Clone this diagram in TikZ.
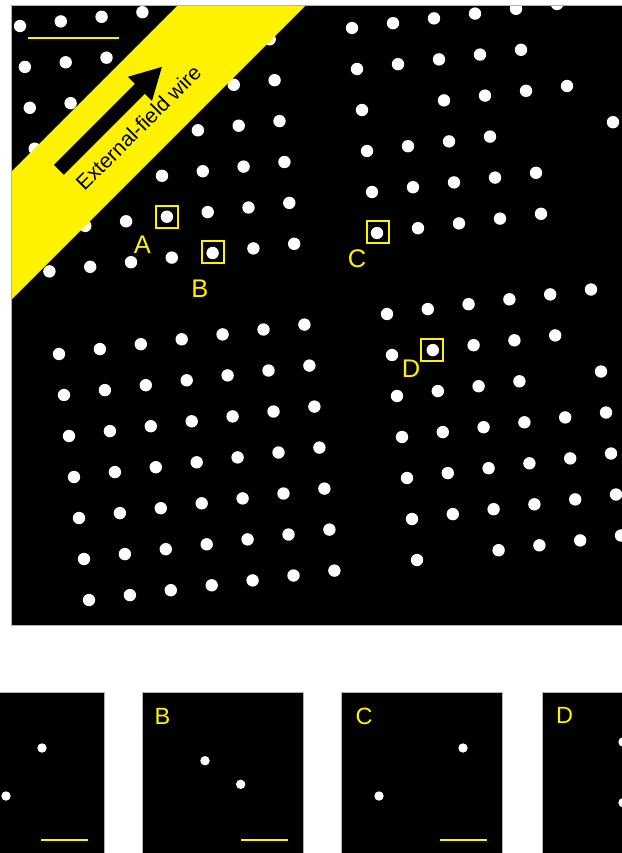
\documentclass[tikz,border=0pt]{standalone}
\usepackage{fontspec}
\setmainfont{Liberation Sans}
\begin{document}
\begin{tikzpicture}[x=1pt,y=-1pt,
  atom/.style={fill=white},
  frame/.style={draw=gray!60,line width=0.8pt},
  markbox/.style={draw=yellow,line width=2pt,minimum size=22pt,inner sep=0pt,shape=rectangle},
  lbl/.style={text=yellow,inner sep=0pt,font=\fontsize{25.5}{25.5}\selectfont},
  plbl/.style={text=yellow,inner sep=0pt,font=\fontsize{23.5}{23.5}\selectfont},
  bar/.style={draw=yellow,line width=2.7pt},
  wire/.style={fill=yellow},
  wiretext/.style={inner sep=0pt,anchor=base west,rotate=45,font=\fontsize{21}{21}\selectfont}]
\useasboundingbox (0,0) rectangle (621,853);
\fill[white] (0,0) rectangle (621,853);
% main image
\begin{scope}
  \clip (11.5,5.5) rectangle (640,625);
  \fill[black] (11.5,5.5) rectangle (640,625);
  % grain 1 (top left)
  \foreach \i in {0,...,6}{\foreach \j in {0,...,6}{
    \fill[atom] ({20+40.8*\i+4.9*\j},{26-4.6*\i+40.9*\j}) circle[radius=6.2pt];}}
  % grain 2 (top right)
  \foreach \i/\j in {0/0,1/0,2/0,3/0,4/0,5/0,
                     0/1,1/1,2/1,3/1,4/1,
                     0/2,2/2,3/2,4/2,5/2,
                     0/3,1/3,2/3,3/3,6/3,
                     0/4,1/4,2/4,3/4,4/4,
                     0/5,1/5,2/5,3/5,4/5}{
    \fill[atom] ({352+41*\i+5*\j},{28-4.8*\i+41*\j}) circle[radius=6.2pt];}
  % grain 3 (bottom left)
  \foreach \i in {0,...,6}{\foreach \j in {0,...,6}{
    \fill[atom] ({59+40.9*\i+5*\j},{354-4.9*\i+41*\j}) circle[radius=6.2pt];}}
  % grain 4 (bottom right)
  \foreach \i/\j in {0/0,1/0,2/0,3/0,4/0,5/0,
                     0/1,1/1,2/1,3/1,4/1,
                     0/2,1/2,2/2,3/2,5/2,
                     0/3,1/3,2/3,3/3,4/3,5/3,
                     0/4,1/4,2/4,3/4,4/4,5/4,
                     0/5,1/5,2/5,3/5,4/5,5/5,
                     0/6,2/6,3/6,4/6,5/6}{
    \fill[atom] ({387+40.8*\i+5*\j},{314-4.9*\i+41*\j}) circle[radius=6.2pt];}
  % external-field wire
  \fill[wire] (11.5,171.5) -- (177.5,5.5) -- (305.5,5.5) -- (11.5,299.5) -- cycle;
  \fill[black] (54.05,164.85) -- (135.05,83.85) -- (127.98,76.78) -- (161.9,66.9)
     -- (152.02,100.82) -- (144.95,93.75) -- (63.95,174.75) -- cycle;
  \node[wiretext] (wirelabel) at (84.5,192) {External-field wire};
  % scale bar
  \draw[yellow,line width=1.2pt] (28,38) -- (119,38);
\end{scope}
\draw[frame] (11.5,5.5) -- (11.5,625) -- (640,625);
\draw[frame] (11.5,5.5) -- (640,5.5);
% marked atoms
\node[markbox] (boxA) at (167,216.8) {};
\node[markbox] (boxB) at (213,252) {};
\node[markbox] (boxC) at (378,232) {};
\node[markbox] (boxD) at (431.5,349.5) {};
\node[lbl] (labA) at (142.5,245) {A};
\node[lbl] (labB) at (200,289) {B};
\node[lbl] (labC) at (357,259) {C};
\node[lbl] (labD) at (411,369) {D};
% bottom panels
\foreach \x in {-57,142.5,341.5,542.5}{
  \fill[black] (\x,692) rectangle ++(161,161);
  \draw[frame] (\x,853) -- (\x,692) -- ++(161,0) -- ++(0,161);
  \draw[bar] ({\x+98},840) -- ({\x+145},840);}
\fill[atom] (42,748) circle[radius=4.7pt];
\fill[atom] (6,796) circle[radius=4.7pt];
\fill[atom] (205,760.7) circle[radius=4.7pt];
\fill[atom] (240.7,784.3) circle[radius=4.7pt];
\fill[atom] (463,748) circle[radius=4.7pt];
\fill[atom] (379,796) circle[radius=4.7pt];
\fill[atom] (623,742) circle[radius=4.7pt];
\fill[atom] (623,802.7) circle[radius=4.7pt];
\node[plbl] (pB) at (162.5,716.5) {B};
\node[plbl] (pC) at (364,716) {C};
\node[plbl] (pD) at (564.7,715.3) {D};
\end{tikzpicture}
\end{document}
